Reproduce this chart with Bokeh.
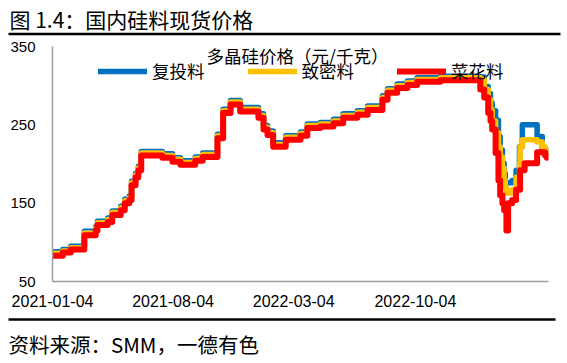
import pandas as pd
from bokeh.plotting import figure
from bokeh.layouts import column
from bokeh.models import (Range1d, FixedTicker, DatetimeTickFormatter, Legend, LegendItem, Label)
from bokeh.core.properties import value
from bokeh.embed import file_html
from bokeh.resources import INLINE

# ---------------- data ----------------
dates = [
    "2021-01-04", "2021-01-22", "2021-02-05", "2021-03-01", "2021-03-21", "2021-03-24",
    "2021-04-11", "2021-04-19", "2021-05-04", "2021-05-11", "2021-05-19", "2021-05-23",
    "2021-05-30", "2021-06-04", "2021-06-09", "2021-07-16", "2021-08-03", "2021-08-17",
    "2021-09-12", "2021-09-25", "2021-10-21", "2021-10-31", "2021-11-13", "2021-11-30",
    "2022-01-01", "2022-01-10", "2022-01-17", "2022-01-27", "2022-02-18", "2022-03-16",
    "2022-03-28", "2022-04-20", "2022-05-13", "2022-05-30", "2022-06-24", "2022-07-12",
    "2022-08-07", "2022-08-16", "2022-09-02", "2022-09-20", "2022-10-07", "2022-11-17",
    "2023-01-26", "2023-02-02", "2023-02-09", "2023-02-13", "2023-02-16", "2023-02-22",
    "2023-02-27", "2023-03-02", "2023-03-06", "2023-03-09", "2023-03-11", "2023-03-13",
    "2023-03-16", "2023-03-23", "2023-03-30", "2023-04-05", "2023-04-06", "2023-04-10",
    "2023-04-14", "2023-05-06", "2023-05-15", "2023-05-20", "2023-05-23",
]
# 菜花料
cauliflower = [
    83, 87, 91, 109, 115, 122, 126, 135, 141, 150, 154, 173,
    183, 192, 211, 208, 203, 199, 204, 209, 233, 265, 276, 267,
    259, 244, 237, 222, 231, 236, 246, 248, 252, 259, 263, 269,
    282, 291, 297, 301, 305, 307,
    295, 285, 265, 255, 244, 214, 179, 160, 150, 141, 141, 115,
    150, 154, 167, 167, 192, 192, 201, 215, 215, 211, 208,
]
# 致密料
dense = [
    86, 89, 93, 112, 118, 125, 129, 138, 144, 153, 157, 176,
    186, 195, 214, 211, 206, 202, 207, 212, 236, 268, 279, 270,
    262, 247, 240, 225, 234, 239, 249, 251, 255, 262, 266, 272,
    285, 294, 300, 304, 308, 310,
    308, 295, 282, 269, 255, 240, 222, 209, 195, 179, 170, 163,
    163, 167, 183, 200, 222, 231, 231, 228, 222, 218, 214,
]
# 复投料
recharge = [
    88, 91, 95, 114, 120, 127, 131, 140, 146, 155, 159, 178,
    188, 197, 216, 213, 208, 204, 209, 214, 238, 270, 281, 272,
    264, 249, 242, 227, 236, 241, 251, 253, 257, 264, 268, 274,
    287, 296, 302, 306, 310, 312,
    311, 299, 290, 278, 268, 256, 235, 218, 201, 188, 176, 176,
    176, 179, 192, 222, 222, 250, 250, 235, 220, 218, 218,
]
series_names = ["复投料", "致密料", "菜花料"]
x_tick_labels = ["2021-01-04", "2021-08-04", "2022-03-04", "2022-10-04"]
y_ticks = [50, 150, 250, 350]
x_start, x_end = "2021-01-04", "2023-05-26"

title_text = "图 1.4：国内硅料现货价格"
chart_title = "多晶硅价格（元/千克）"
source_text = "资料来源：SMM，一德有色"

cjk = "Noto Sans CJK SC"
W = 566


def blank(height):
    f = figure(width=W, height=height, output_backend="svg", toolbar_location=None,
               x_range=Range1d(0, W), y_range=Range1d(0, height),
               min_border=0, min_border_left=0, min_border_right=0,
               min_border_top=0, min_border_bottom=0,
               x_axis_location=None, y_axis_location=None, frame_align=False)
    f.outline_line_color = None
    f.grid.visible = False
    return f


# ---------------- header (title + rule) ----------------
HT = 37
top = blank(HT)
top.text(x=[9], y=[HT - 18.5], text=[title_text], text_font=value(cjk),
         text_font_size=value("21px"), text_baseline="middle", text_align="left",
         text_color="black")
top.quad(left=[8], right=[560], bottom=[HT - 34.8], top=[HT - 32.2],
         fill_color="black", line_color=None)

# ---------------- main chart ----------------
dt = pd.to_datetime(dates)
p = figure(width=W, height=275, x_axis_type="datetime", output_backend="svg",
           toolbar_location=None,
           x_range=Range1d(pd.Timestamp(x_start), pd.Timestamp(x_end)),
           y_range=Range1d(50, 350),
           min_border_left=52, min_border_right=18, min_border_top=9, min_border_bottom=31,
           frame_align=False)
p.outline_line_color = None
p.grid.visible = False

colors = {"复投料": "#0070C0", "致密料": "#FFC000", "菜花料": "#FF0000"}
vals = {"复投料": recharge, "致密料": dense, "菜花料": cauliflower}
widths = {"复投料": 5.5, "致密料": 5.5, "菜花料": 6}
rends = {}
for name in series_names:
    rends[name] = p.step(dt, vals[name], mode="after", line_color=colors[name],
                         line_width=widths[name], line_join="round", line_cap="round")

p.xaxis.ticker = FixedTicker(ticks=[pd.Timestamp(t).value / 1e6 for t in x_tick_labels])
p.xaxis.formatter = DatetimeTickFormatter(days="%Y-%m-%d", months="%Y-%m-%d", years="%Y-%m-%d")
p.yaxis.ticker = FixedTicker(ticks=y_ticks)
for ax in (p.xaxis, p.yaxis):
    ax.axis_line_color = "#A0A0A0"
    ax.axis_line_width = 1.5
    ax.major_tick_line_color = None
    ax.minor_tick_line_color = None
    ax.major_label_text_font = "Liberation Sans"
    ax.major_label_text_color = "black"
p.yaxis.major_label_text_font_size = "15px"
p.xaxis.major_label_text_font_size = "16px"
p.yaxis.major_label_standoff = 11
p.xaxis.major_label_standoff = 7

legend = Legend(items=[LegendItem(label=n, renderers=[rends[n]]) for n in series_names],
                orientation="horizontal", location=(46, 198),
                glyph_width=49, glyph_height=20, label_standoff=5, spacing=43,
                padding=0, margin=0, border_line_color=None, background_fill_alpha=0,
                label_text_font=cjk, label_text_font_size="17.5px", label_text_color="black")
p.add_layout(legend, "center")

p.add_layout(Label(x=245, y=226, x_units="screen", y_units="screen", text=chart_title,
                   text_align="center", text_baseline="middle",
                   text_font=cjk, text_font_size="17.5px", text_color="black"))

# ---------------- footer (rule + source) ----------------
HB = 50
bot = blank(HB)
bot.quad(left=[8], right=[555], bottom=[HB - 8.3], top=[HB - 5.7],
         fill_color="black", line_color=None)
bot.text(x=[8], y=[HB - 31], text=[source_text], text_font=value(cjk),
         text_font_size=value("20.5px"), text_baseline="middle", text_align="left",
         text_color="black")

layout = column(top, p, bot, spacing=0)
open("out.html", "w").write(file_html(layout, INLINE))
